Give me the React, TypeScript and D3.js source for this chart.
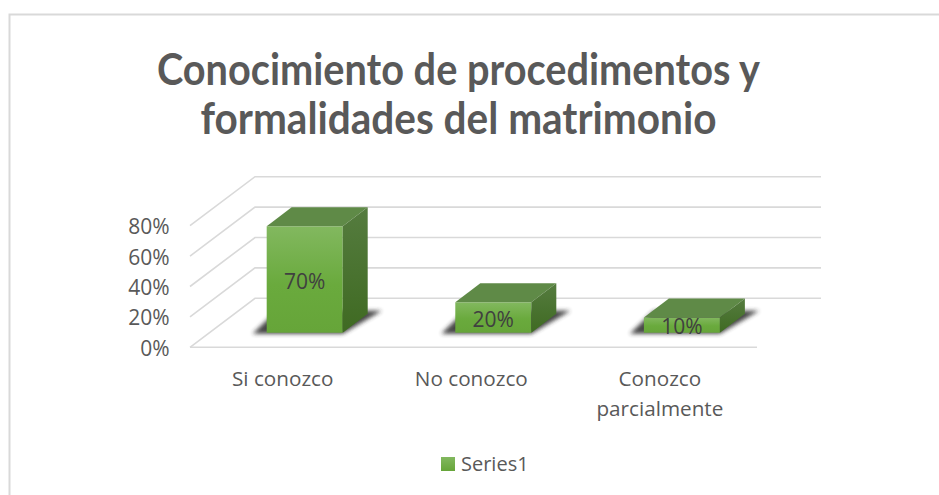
import React from "react";
import * as d3 from "d3";

const categories = ["Si conozco", "No conozco", "Conozco parcialmente"];
const categoryLines = [["Si conozco"], ["No conozco"], ["Conozco", "parcialmente"]];
const values = [0.7, 0.2, 0.1];
const valueLabels = ["70%", "20%", "10%"];
const ticks = [0, 0.2, 0.4, 0.6, 0.8];
const titleLines = ["Conocimiento de procedimentos y", "formalidades del matrimonio"];
const titleWidths = [603, 516];
const seriesName = "Series1";

const W = 939, H = 495;
const FONT = "'Open Sans', sans-serif";
const frontX0 = 190, frontX1 = 757;
const floorY = 347.3;
const depthX = 65, depthY = 49;
const barDepthX = 25, barDepthY = 19;
const barInsetY = 14.6;

const y = d3.scaleLinear().domain([0, 0.8]).range([floorY, floorY - 121.6]);
const x = d3.scaleBand<string>().domain(categories).range([210.4, 776.2]).paddingInner(0.597).paddingOuter(0.2985);

export default function App() {
  return (
    <svg width={W} height={H} viewBox={`0 0 ${W} ${H}`} style={{ position: "absolute", left: 0, top: 0, background: "#fff" }}>
      <defs>
        <linearGradient id="front" x1="0" y1="0" x2="0" y2="1">
          <stop offset="0" stopColor="#82b85f" />
          <stop offset="0.55" stopColor="#6aaa3d" />
          <stop offset="1" stopColor="#66a539" />
        </linearGradient>
        <linearGradient id="side" x1="0" y1="0" x2="0" y2="1">
          <stop offset="0" stopColor="#557c3f" />
          <stop offset="1" stopColor="#3f6a22" />
        </linearGradient>
        <linearGradient id="legendFill" x1="0" y1="0" x2="0" y2="1">
          <stop offset="0" stopColor="#82b85f" />
          <stop offset="1" stopColor="#66a539" />
        </linearGradient>
        <filter id="blur" x="-20%" y="-50%" width="140%" height="200%">
          <feGaussianBlur stdDeviation="2.2" />
        </filter>
      </defs>

      <rect x={9.5} y={14.5} width={W + 20} height={H + 20} fill="#fff" stroke="#d9d9d9" strokeWidth={2} />

      {titleLines.map((t, i) => (
        <text key={t} x={458.5} y={85 + i * 48.5} textAnchor="middle" fontFamily="Lato, sans-serif" fontWeight={700} fontSize={43} textLength={titleWidths[i]} lengthAdjust="spacingAndGlyphs" fill="#595959">{t}</text>
      ))}

      {ticks.map((t) => {
        const yy = y(t);
        const isFloor = t === 0;
        return (
          <g key={t} fill="none" stroke="#d9d9d9" strokeWidth={1.6}>
            <polyline points={`${frontX0},${yy} ${frontX0 + depthX},${yy - depthY} ${frontX1 + depthX - 1},${yy - depthY}`} />
            {isFloor && <line x1={frontX0} x2={frontX1} y1={yy} y2={yy} />}
          </g>
        );
      })}

      {ticks.map((t) => (
        <text key={t} x={169.5} y={y(t) + 8.5} textAnchor="end" fontFamily={FONT} fontSize={21} fill="#595959">{d3.format(".0%")(t)}</text>
      ))}

      {categories.map((c, i) => {
        const x0 = x(c)!;
        const x1 = x0 + x.bandwidth();
        const yb = floorY - barInsetY;
        const yt = y(values[i]) - barInsetY;
        return (
          <g key={c}>
            <polygon
              points={`${x0 - 14},${yb + 1} ${x1},${yb + 1} ${x1 + 39},${yb - 22} ${x0 + 10},${yb - 22}`}
              fill="#303030"
              opacity={0.9}
              filter="url(#blur)"
            />
            <rect x={x0} y={yt} width={x1 - x0} height={yb - yt} fill="url(#front)" />
            <polygon points={`${x0},${yt} ${x0 + barDepthX},${yt - barDepthY} ${x1 + barDepthX},${yt - barDepthY} ${x1},${yt}`} fill="#5f8a47" />
            <polygon points={`${x1},${yt} ${x1 + barDepthX},${yt - barDepthY} ${x1 + barDepthX},${yb - barDepthY} ${x1},${yb}`} fill="url(#side)" />
            <text x={(x0 + x1) / 2} y={(yt + yb) / 2 + 9} textAnchor="middle" fontFamily={FONT} fontSize={21} fill="#404040">{valueLabels[i]}</text>
            {categoryLines[i].map((l, j) => (
              <text key={l} x={(x0 + x1) / 2 - 22} y={386 + j * 30} textAnchor="middle" fontFamily={FONT} fontSize={20.7} fill="#595959">{l}</text>
            ))}
          </g>
        );
      })}

      <rect x={441} y={457} width={14} height={14} fill="url(#legendFill)" />
      <text x={461} y={471} fontFamily={FONT} fontSize={20} fill="#595959">{seriesName}</text>
    </svg>
  );
}
